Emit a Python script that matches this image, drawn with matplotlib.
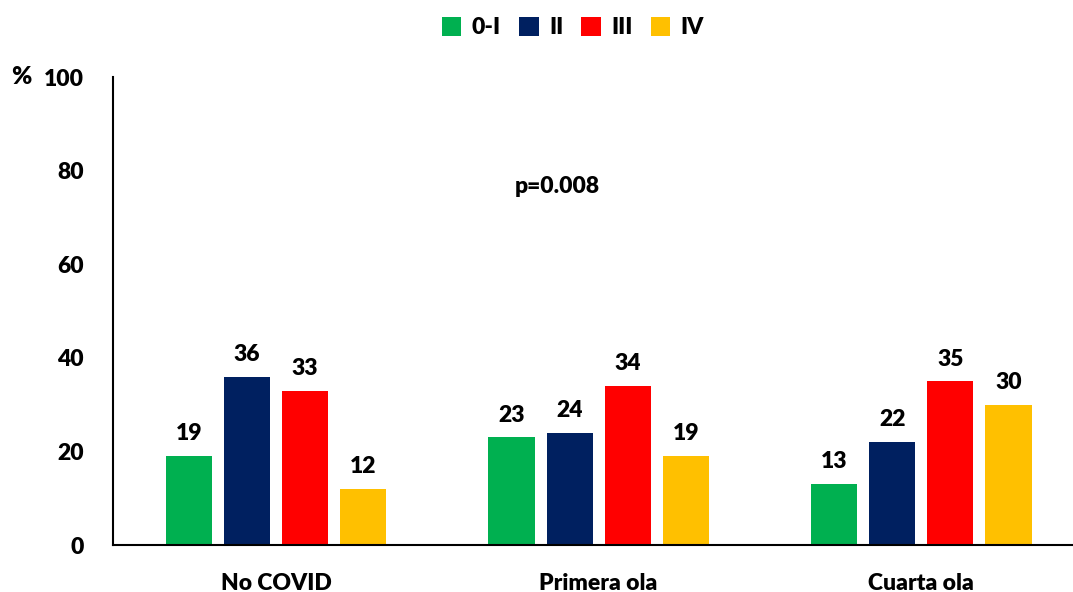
import numpy as np
import matplotlib.pyplot as plt
from matplotlib.patches import Patch

plt.rcParams["font.family"] = ["Lato", "DejaVu Sans"]
plt.rcParams["font.weight"] = "heavy"

# data
groups = ["No COVID", "Primera ola", "Cuarta ola"]
stages = ["0-I", "II", "III", "IV"]
v_0I = [19, 23, 13]
v_II = [36, 24, 22]
v_III = [33, 34, 35]
v_IV = [12, 19, 30]
colors = ["#00b050", "#002060", "#ff0000", "#ffc000"]
yticks = [0, 20, 40, 60, 80, 100]

fs = 16.5
fw = "heavy"

fig = plt.figure(figsize=(10.73, 5.92), dpi=100)
ax = fig.add_axes([113 / 1073, 47 / 592, 960 / 1073, 468 / 592])

x = np.arange(len(groups))
step = 0.18
width = 0.143
series = [v_0I, v_II, v_III, v_IV]
for i, (vals, col) in enumerate(zip(series, colors)):
    pos = x + (i - 1.5) * step
    ax.bar(pos, vals, width=width, color=col, label=stages[i])
    for px, v in zip(pos, vals):
        ax.text(px, v + 2.5, str(v), ha="center", va="bottom",
                fontsize=fs, fontweight=fw)

ax.text(0.873, 76.7, "p=0.008", ha="center", va="center",
        fontsize=fs, fontweight=fw)

ax.set_xlim(-0.505, 2.47)
ax.set_ylim(0, 100)
ax.set_yticks(yticks)
ax.set_yticklabels([str(t) for t in yticks], fontsize=fs, fontweight=fw)
ax.set_xticks(x)
ax.set_xticklabels(groups, fontsize=fs, fontweight=fw)
ax.tick_params(axis="y", length=0, pad=21)
ax.tick_params(axis="x", length=0, pad=20)
for s in ["top", "right"]:
    ax.spines[s].set_visible(False)
for s in ["left", "bottom"]:
    ax.spines[s].set_linewidth(1.5)
    ax.spines[s].set_color("black")

fig.text(11 / 1073, 1 - 77 / 592, "%", ha="left", va="center",
         fontsize=fs + 1, fontweight=fw)

handles = [Patch(facecolor=c, label=l) for c, l in zip(colors, stages)]
fig.legend(handles=handles, loc="center", bbox_to_anchor=(0.534, 0.953),
           ncol=4, frameon=False, handlelength=0.85,
           handleheight=0.85, handletextpad=0.45, columnspacing=0.8,
           prop={"weight": fw, "size": fs})

plt.savefig("out.png", dpi=100)
